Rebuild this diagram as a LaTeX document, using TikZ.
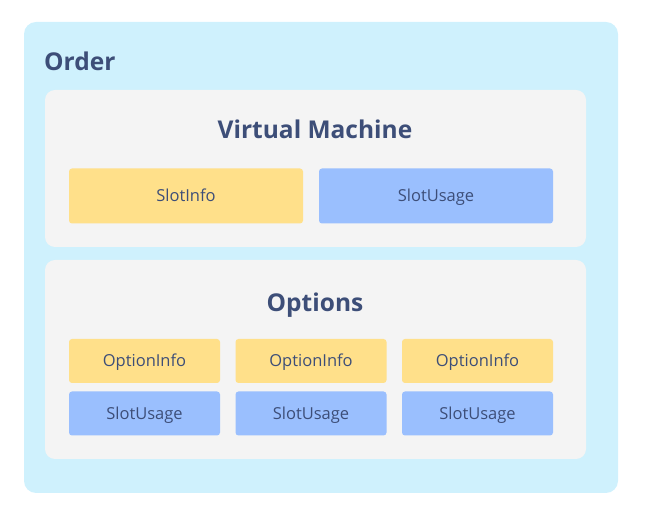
\documentclass[tikz,border=0pt]{standalone}
\usepackage{fontspec}
\setmainfont{Open Sans}
\usepackage{tikz}
\definecolor{orderbg}{HTML}{CFF1FD}
\definecolor{groupbg}{HTML}{F4F4F4}
\definecolor{infoyel}{HTML}{FFE08A}
\definecolor{usageblue}{HTML}{9ABFFE}
\definecolor{inktext}{HTML}{3D4E78}
\tikzstyle{container} = [rectangle, rounded corners=12pt, fill=orderbg, draw=none]
\tikzstyle{group} = [rectangle, rounded corners=10pt, fill=groupbg, draw=none, minimum width=541pt]
\tikzstyle{title} = [text=inktext, font=\fontsize{24.5}{28}\selectfont\bfseries, text height=17.5pt, text depth=0pt]
\tikzstyle{info} = [rectangle, rounded corners=3pt, fill=infoyel, draw=none, text=inktext, font=\fontsize{16.5}{19}\selectfont, text height=11.8pt, text depth=0pt]
\tikzstyle{usage} = [rectangle, rounded corners=3pt, fill=usageblue, draw=none, text=inktext, font=\fontsize{16.5}{19}\selectfont, text height=11.8pt, text depth=0pt]

\begin{document}
\begin{tikzpicture}[x=1pt,y=-1pt]
\useasboundingbox (0,0) rectangle (646,518);

% Containers
\node (order) at (321,257.5) [container, minimum width=594pt, minimum height=471pt] {};
\node (vm) at (315.5,168.5) [group, minimum height=157pt] {};
\node (options) at (315.5,359.5) [group, minimum height=199pt] {};

% Titles
\node (ordertitle) at (44,62) [title, anchor=west, inner sep=0pt] {Order};
\node (vmtitle) at (315,130) [title] {Virtual Machine};
\node (opttitle) at (315,303) [title] {Options};

% Virtual machine
\node (slotinfo) at (186,196) [info, minimum width=234pt, minimum height=55pt] {SlotInfo};
\node (slotusage) at (436,196) [usage, minimum width=234pt, minimum height=55pt] {SlotUsage};

% Options
\node (optinfoA) at (144.5,361) [info, minimum width=151pt, minimum height=44pt] {OptionInfo};
\node (optinfoB) at (311,361) [info, minimum width=151pt, minimum height=44pt] {OptionInfo};
\node (optinfoC) at (477.5,361) [info, minimum width=151pt, minimum height=44pt] {OptionInfo};
\node (optusageA) at (144.5,413.5) [usage, minimum width=151pt, minimum height=44pt] {SlotUsage};
\node (optusageB) at (311,413.5) [usage, minimum width=151pt, minimum height=44pt] {SlotUsage};
\node (optusageC) at (477.5,413.5) [usage, minimum width=151pt, minimum height=44pt] {SlotUsage};

\end{tikzpicture}
\end{document}
